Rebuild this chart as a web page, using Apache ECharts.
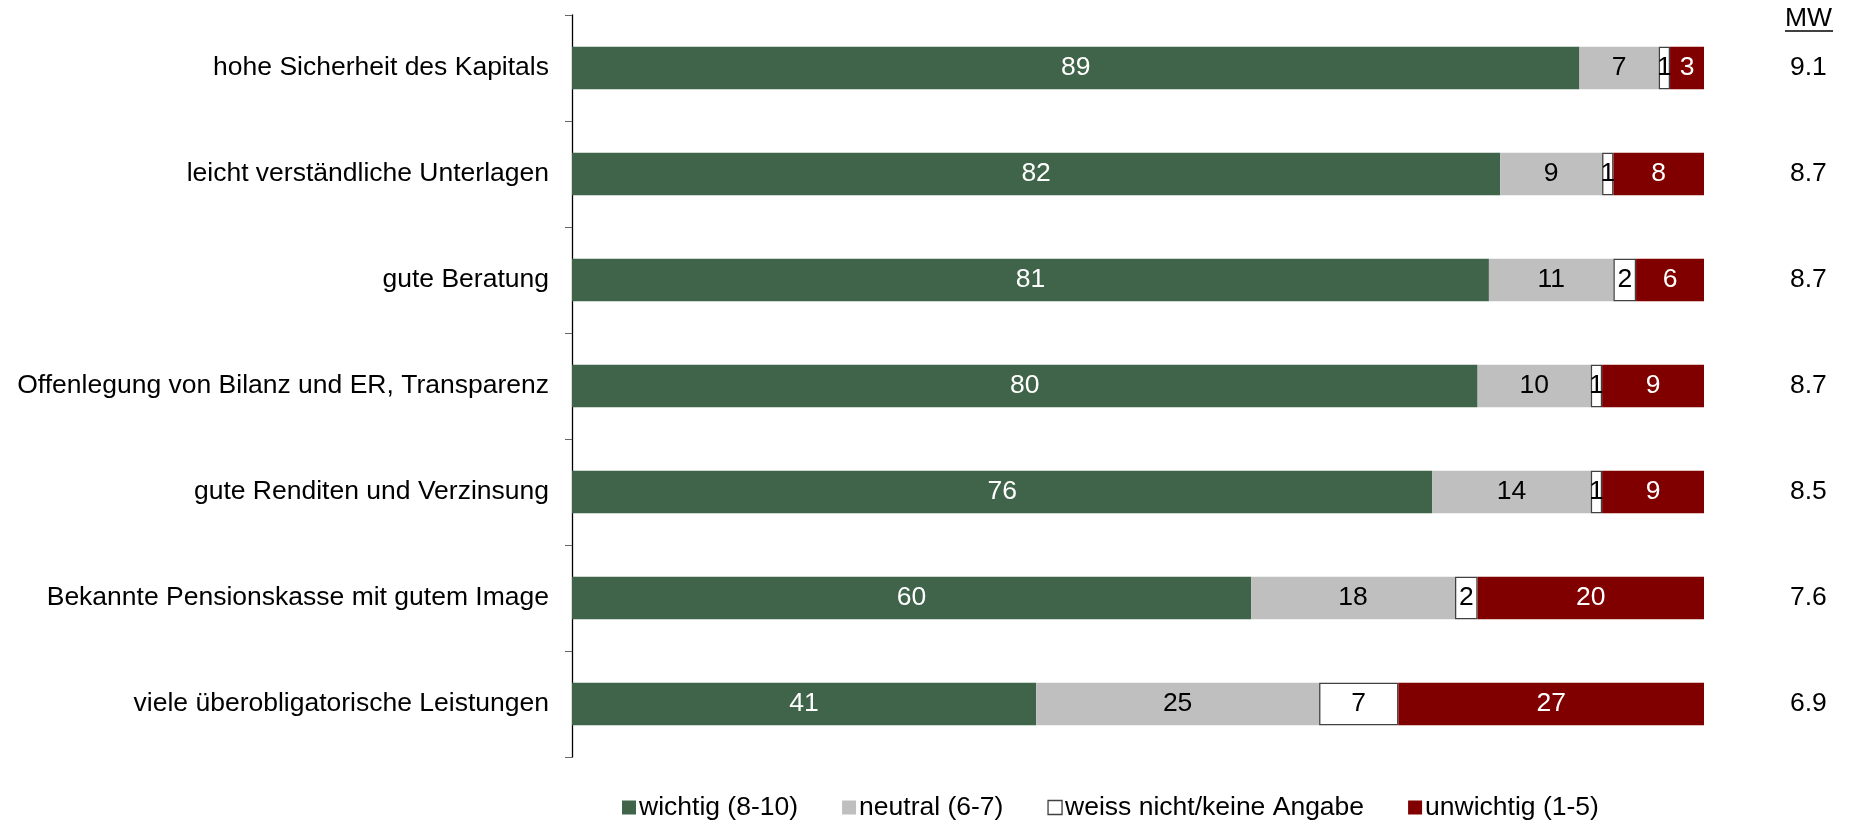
<!DOCTYPE html>
<html><head><meta charset="utf-8">
<script src="https://cdn.jsdelivr.net/npm/echarts@6/dist/echarts.min.js"></script>
<style>html,body{margin:0;padding:0;background:#fff}#c{width:1850px;height:825px}</style>
</head><body><div id="c"></div>
<script>
const categories = ["hohe Sicherheit des Kapitals","leicht verständliche Unterlagen","gute Beratung","Offenlegung von Bilanz und ER, Transparenz","gute Renditen und Verzinsung","Bekannte Pensionskasse mit gutem Image","viele überobligatorische Leistungen"];
const wichtig = [89,82,81,80,76,60,41];
const neutral = [7,9,11,10,14,18,25];
const weissNicht = [1,1,2,1,1,2,7];
const unwichtig = [3,8,6,9,9,20,27];
const mw = ["9.1","8.7","8.7","8.7","8.5","7.6","6.9"];
const seriesNames = ["wichtig (8-10)","neutral (6-7)","weiss nicht/keine Angabe","unwichtig (1-5)"];

const FONT = "Liberation Sans, Arial, sans-serif";
const FS = 26.5;
const chart = echarts.init(document.getElementById('c'));
function mk(name, data, color, txt, border){
  return {
    name, type:'bar', stack:'a', data, barWidth:'40%',
    itemStyle:{color, borderColor: border? '#404040':color, borderWidth: border?1.3:0},
    label:{show:true, position:'inside', color:txt, fontFamily:FONT, fontSize:FS},
    emphasis:{disabled:true}
  };
}
chart.setOption({
  animation:false,
  textStyle:{fontFamily:FONT},
  grid:{left:572, right:146, top:15, bottom:68, containLabel:false},
  legend:{
    bottom:-1, left:617, icon:'rect', itemWidth:14, itemHeight:14, itemGap:44,
    textStyle:{fontFamily:FONT, fontSize:FS, color:'#000', padding:[0,0,0,-2]},
    data:seriesNames.map((n,i)=>({name:n, itemStyle: i==2?{borderColor:'#404040',borderWidth:1.3}:{}}))
  },
  xAxis:{type:'value', min:0, max:100, show:false},
  yAxis:[{
    type:'category', data:categories, inverse:true,
    axisLine:{show:true, lineStyle:{color:'#000', width:1.3}},
    axisTick:{show:true, length:7, lineStyle:{color:'#666'}},
    axisLabel:{color:'#000', fontSize:FS, fontFamily:FONT, margin:23}
  },{
    type:'category', data:mw, inverse:true, position:'right',
    axisLine:{show:false}, axisTick:{show:false},
    axisLabel:{color:'#000', fontSize:FS, fontFamily:FONT, margin:86, align:'left'}
  }],
  graphic:[
    {type:'text', left:1785, top:5, style:{text:'MW', fontSize:FS, fontFamily:FONT, fill:'#000'}},
    {type:'line', shape:{x1:1785, y1:31, x2:1833, y2:31}, style:{stroke:'#000', lineWidth:1.5}}
  ],
  series:[
    mk(seriesNames[0], wichtig, '#3F644A', '#fff'),
    mk(seriesNames[1], neutral, '#BFBFBF', '#000'),
    mk(seriesNames[2], weissNicht, '#FFFFFF', '#000', true),
    mk(seriesNames[3], unwichtig, '#800000', '#fff')
  ]
});
</script></body></html>
